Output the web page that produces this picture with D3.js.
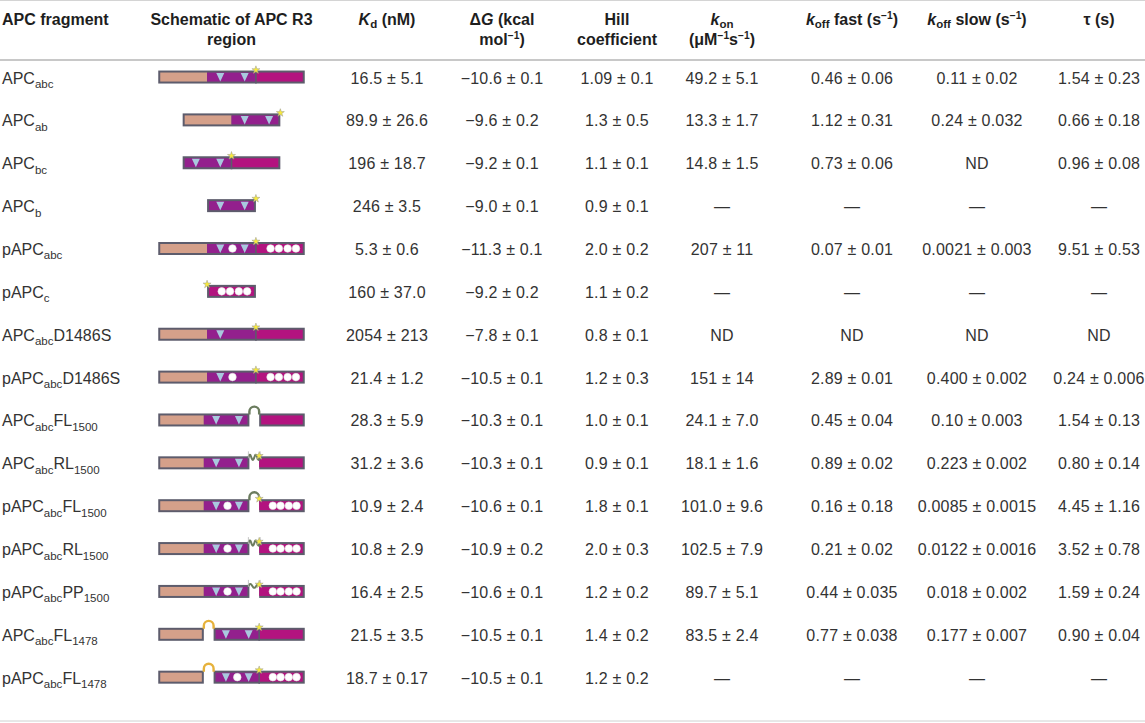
<!DOCTYPE html>
<html>
<head>
<meta charset="utf-8">
<script src="https://d3js.org/d3.v7.min.js"></script>
<style>
  body { margin: 0; background: #fff; }
  svg text { font-family: "Liberation Sans", Arial, Helvetica, sans-serif; }
</style>
</head>
<body>
<svg id="table" width="1145" height="723"></svg>
<script>
// ---- data ----
var fragments = ["APC_{abc}", "APC_{ab}", "APC_{bc}", "APC_{b}", "pAPC_{abc}", "pAPC_{c}",
  "APC_{abc}D1486S", "pAPC_{abc}D1486S", "APC_{abc}FL_{1500}", "APC_{abc}RL_{1500}",
  "pAPC_{abc}FL_{1500}", "pAPC_{abc}RL_{1500}", "pAPC_{abc}PP_{1500}", "APC_{abc}FL_{1478}",
  "pAPC_{abc}FL_{1478}"];

// schematic: a/b/c = R3 sub-regions (b: sites v=triangle o=circle), * = label, fl/rl/pp/yl = linkers
var schematics = ["a b:v-v * c", "a b:v-v *", "b:v-v * c", "b:v-v *", "a b:vov * c:oooo", "* c:oooo",
  "a b:v-- * c", "a b:vo- * c:oooo", "a b:v-v fl c", "a b:v-v rl * c", "a b:vov fl * c:oooo",
  "a b:vov rl * c:oooo", "a b:vov pp * c:oooo", "a yl b:v-v * c", "a yl b:vov * c:oooo"];

var kd = ["16.5 ± 5.1", "89.9 ± 26.6", "196 ± 18.7", "246 ± 3.5", "5.3 ± 0.6", "160 ± 37.0", "2054 ± 213",
  "21.4 ± 1.2", "28.3 ± 5.9", "31.2 ± 3.6", "10.9 ± 2.4", "10.8 ± 2.9", "16.4 ± 2.5", "21.5 ± 3.5", "18.7 ± 0.17"];
var deltaG = ["−10.6 ± 0.1", "−9.6 ± 0.2", "−9.2 ± 0.1", "−9.0 ± 0.1", "−11.3 ± 0.1", "−9.2 ± 0.2", "−7.8 ± 0.1",
  "−10.5 ± 0.1", "−10.3 ± 0.1", "−10.3 ± 0.1", "−10.6 ± 0.1", "−10.9 ± 0.2", "−10.6 ± 0.1", "−10.5 ± 0.1", "−10.5 ± 0.1"];
var hill = ["1.09 ± 0.1", "1.3 ± 0.5", "1.1 ± 0.1", "0.9 ± 0.1", "2.0 ± 0.2", "1.1 ± 0.2", "0.8 ± 0.1",
  "1.2 ± 0.3", "1.0 ± 0.1", "0.9 ± 0.1", "1.8 ± 0.1", "2.0 ± 0.3", "1.2 ± 0.2", "1.4 ± 0.2", "1.2 ± 0.2"];
var kon = ["49.2 ± 5.1", "13.3 ± 1.7", "14.8 ± 1.5", "—", "207 ± 11", "—", "ND", "151 ± 14", "24.1 ± 7.0",
  "18.1 ± 1.6", "101.0 ± 9.6", "102.5 ± 7.9", "89.7 ± 5.1", "83.5 ± 2.4", "—"];
var koffFast = ["0.46 ± 0.06", "1.12 ± 0.31", "0.73 ± 0.06", "—", "0.07 ± 0.01", "—", "ND", "2.89 ± 0.01",
  "0.45 ± 0.04", "0.89 ± 0.02", "0.16 ± 0.18", "0.21 ± 0.02", "0.44 ± 0.035", "0.77 ± 0.038", "—"];
var koffSlow = ["0.11 ± 0.02", "0.24 ± 0.032", "ND", "—", "0.0021 ± 0.003", "—", "ND", "0.400 ± 0.002",
  "0.10 ± 0.003", "0.223 ± 0.002", "0.0085 ± 0.0015", "0.0122 ± 0.0016", "0.018 ± 0.002", "0.177 ± 0.007", "—"];
var tau = ["1.54 ± 0.23", "0.66 ± 0.18", "0.96 ± 0.08", "—", "9.51 ± 0.53", "—", "ND", "0.24 ± 0.006",
  "1.54 ± 0.13", "0.80 ± 0.14", "4.45 ± 1.16", "3.52 ± 0.78", "1.59 ± 0.24", "0.90 ± 0.04", "—"];

var columns = ["frag", "schem", "kd", "dg", "hill", "kon", "kf", "ks", "tau"];
var headers = [["APC fragment"], ["Schematic of APC R3", "region"], ["*K*_{d} (nM)"], ["Δ*G* (kcal", "mol^{−1})"],
  ["Hill", "coefficient"], ["*k*_{on}", "(μM^{−1}s^{−1})"], ["*k*_{off} fast (s^{−1})"], ["*k*_{off} slow (s^{−1})"], ["τ (s)"]];
var valueCols = {kd: kd, dg: deltaG, hill: hill, kon: kon, kf: koffFast, ks: koffSlow, tau: tau};

// ---- layout ----
var svg = d3.select("#table");
var colX = d3.scaleOrdinal().domain(columns).range([2, 231.5, 387, 502, 617, 722, 852, 977, 1099]);
var rowY = d3.scaleBand().domain(d3.range(fragments.length)).range([56.6, 699.6]);
var rowC = function(i) { return rowY(i) + rowY.bandwidth() / 2; };

// rules
svg.append("line").attr("x1", 0).attr("x2", 1145).attr("y1", 0.5).attr("y2", 0.5).attr("stroke", "#d4d4d4");
svg.append("line").attr("x1", 0).attr("x2", 1145).attr("y1", 60).attr("y2", 60).attr("stroke", "#c8c8c8").attr("stroke-width", 2);
svg.append("line").attr("x1", 0).attr("x2", 1145).attr("y1", 721).attr("y2", 721).attr("stroke", "#d0d0d0");

// markup: *italic*, _{sub}, ^{sup}
function rich(textSel, str, size, subK, supK) {
  var re = /(\*[^*]+\*|_\{[^}]+\}|\^\{[^}]+\})/g;
  var parts = str.split(re).filter(function(p) { return p.length; });
  var shift = 0;
  parts.forEach(function(p) {
    var t = textSel.append("tspan");
    var target = 0, txt = p, fs = size;
    if (p[0] === "*") { txt = p.slice(1, -1); t.attr("font-style", "italic"); }
    else if (p.slice(0, 2) === "_{") { txt = p.slice(2, -1); target = size * subK; fs = size * 0.72; }
    else if (p.slice(0, 2) === "^{") { txt = p.slice(2, -1); target = -size * supK; fs = size * 0.64; }
    t.attr("dy", target - shift).attr("font-size", fs).text(txt);
    shift = target;
  });
}

// header
headers.forEach(function(lines, ci) {
  var key = columns[ci];
  lines.forEach(function(line, li) {
    var t = svg.append("text")
      .attr("x", colX(key))
      .attr("y", 25 + li * 20)
      .attr("text-anchor", key === "frag" ? "start" : "middle")
      .attr("font-weight", "bold")
      .attr("font-size", 16)
      .attr("fill", "#1e1e1e");
    rich(t, line, 16, 0.18, 0.36);
  });
});

// body text
fragments.forEach(function(f, i) {
  var t = svg.append("text").attr("x", colX("frag")).attr("y", rowC(i) + 5.5)
    .attr("font-size", 16).attr("fill", "#333");
  rich(t, f, 16, 0.28, 0.4);
});
Object.keys(valueCols).forEach(function(key) {
  svg.append("g").selectAll("text").data(valueCols[key]).join("text")
    .attr("x", colX(key))
    .attr("y", function(d, i) { return rowC(i) + 5.5; })
    .attr("text-anchor", "middle")
    .attr("font-size", 16)
    .attr("letter-spacing", 0.2)
    .attr("fill", "#333")
    .text(function(d) { return d; });
});

// ---- schematics ----
var fillOf = {a: "#d5a08a", b: "#93208d", c: "#b3137f"};
var border = "#5d5c6c";
var sites = {b: [0.27, 0.52, 0.77], c: [0.3, 0.47, 0.65, 0.82]};
var u = d3.scaleLinear().domain([0, 30]).range([0, 146.5]);
var barH = 13;
var star = d3.symbol().type(d3.symbolStar).size(20);

schematics.forEach(function(spec, i) {
  var toks = spec.split(" ");
  var hasLinker = toks.some(function(t) { return ["fl", "rl", "pp", "yl"].indexOf(t) >= 0; });
  var segW = hasLinker ? 28 / 3 : 10, gapW = 2;
  // walk tokens in units
  var pos = 0, items = [];
  toks.forEach(function(t) {
    var k = t.split(":")[0];
    if (k === "a" || k === "b" || k === "c") { items.push({type: "seg", k: k, s: pos, e: pos + segW, m: t.split(":")[1] || ""}); pos += segW; }
    else if (k === "*") { items.push({type: "star", s: pos}); }
    else { items.push({type: "link", k: k, s: pos, e: pos + gapW}); pos += gapW; }
  });
  var x0 = colX("schem") - u(pos) / 2;
  var X = function(v) { return x0 + u(v); };
  var top = rowC(i) - 1 - barH / 2, bot = top + barH;
  var g = svg.append("g");

  // contiguous blocks for outline
  var blocks = [], cur = null;
  items.forEach(function(it) {
    if (it.type === "seg") { if (cur) cur.e = it.e; else { cur = {s: it.s, e: it.e}; blocks.push(cur); } }
    else if (it.type === "link") cur = null;
  });
  g.selectAll("rect.blk").data(blocks).join("rect")
    .attr("x", function(d) { return X(d.s); }).attr("y", top)
    .attr("width", function(d) { return u(d.e - d.s); }).attr("height", barH)
    .attr("fill", border);
  var segs = items.filter(function(d) { return d.type === "seg"; });
  g.selectAll("rect.seg").data(segs).join("rect")
    .attr("x", function(d, j) { return X(d.s) + (j === 0 || items[items.indexOf(d) - 1].type === "link" ? 2 : 0); })
    .attr("y", top + 2)
    .attr("width", function(d, j) {
      var w = u(d.e - d.s);
      var idx = items.indexOf(d);
      if (j === 0 || items[idx - 1].type === "link") w -= 2;
      var nx = items.slice(idx + 1).find(function(q) { return q.type !== "star"; });
      if (!nx || nx.type === "link") w -= 2;
      return w;
    })
    .attr("height", barH - 4)
    .attr("fill", function(d) { return fillOf[d.k]; });

  // motifs
  segs.forEach(function(sg) {
    sg.m.split("").forEach(function(ch, j) {
      var cx = X(sg.s + (sg.e - sg.s) * sites[sg.k][j]);
      if (ch === "v") {
        g.append("path").attr("d", "M" + (cx - 4) + "," + (top + 2.5) + "L" + (cx + 4) + "," + (top + 2.5) + "L" + cx + "," + (top + 11) + "Z")
          .attr("fill", "#a9c9de");
      } else if (ch === "o") {
        g.append("circle").attr("cx", cx).attr("cy", top + barH / 2).attr("r", 3.8)
          .attr("fill", "#fff").attr("stroke", "#e4e4e4").attr("stroke-width", 0.6);
      }
    });
  });

  // linkers
  items.filter(function(d) { return d.type === "link"; }).forEach(function(lk) {
    var a = X(lk.s), b = X(lk.e);
    if (lk.k === "fl" || lk.k === "yl") {
      var r = (b - a) / 2;
      g.append("path").attr("d", "M" + a + "," + (top + 1) + "L" + a + "," + (top - 2) + "A" + r + "," + r + " 0 0 1 " + b + "," + (top - 2) + "L" + b + "," + (top + 1))
        .attr("fill", "none").attr("stroke", lk.k === "yl" ? "#e6b23c" : "#6b7c5e").attr("stroke-width", 2.4);
    } else {
      var waves = lk.k === "rl" ? 2 : 1.5, amp = lk.k === "rl" ? 2.8 : 2;
      var pts = d3.range(0, 1.0001, 0.05).map(function(f) {
        return [a - 1 + (b - a + 2) * f, top + 1 - amp * Math.sin(f * waves * 2 * Math.PI)];
      });
      g.append("path").attr("d", d3.line().curve(d3.curveBasis)(pts))
        .attr("fill", "none").attr("stroke", "#6b7c5e").attr("stroke-width", 2);
      [a - 1, b + 1].forEach(function(tx) {
        g.append("line").attr("x1", tx).attr("x2", tx).attr("y1", top - 5).attr("y2", top + 2)
          .attr("stroke", "#b8b8b8").attr("stroke-width", 0.8);
      });
    }
  });

  // label stars (with stem where it sits between two segments)
  items.forEach(function(it, idx) {
    if (it.type !== "star") return;
    var sx = X(it.s);
    var prev = items[idx - 1], next = items[idx + 1];
    if (prev && next && prev.type === "seg" && next.type === "seg") {
      g.append("line").attr("x1", sx).attr("x2", sx).attr("y1", top).attr("y2", bot)
        .attr("stroke", border).attr("stroke-width", 1.6);
    }
    g.append("path").attr("d", star).attr("transform", "translate(" + sx + "," + (top - 0.5) + ")")
      .attr("fill", "#f7ea3c").attr("stroke", "#9a9a90").attr("stroke-width", 0.5);
  });
});
</script>
</body>
</html>
